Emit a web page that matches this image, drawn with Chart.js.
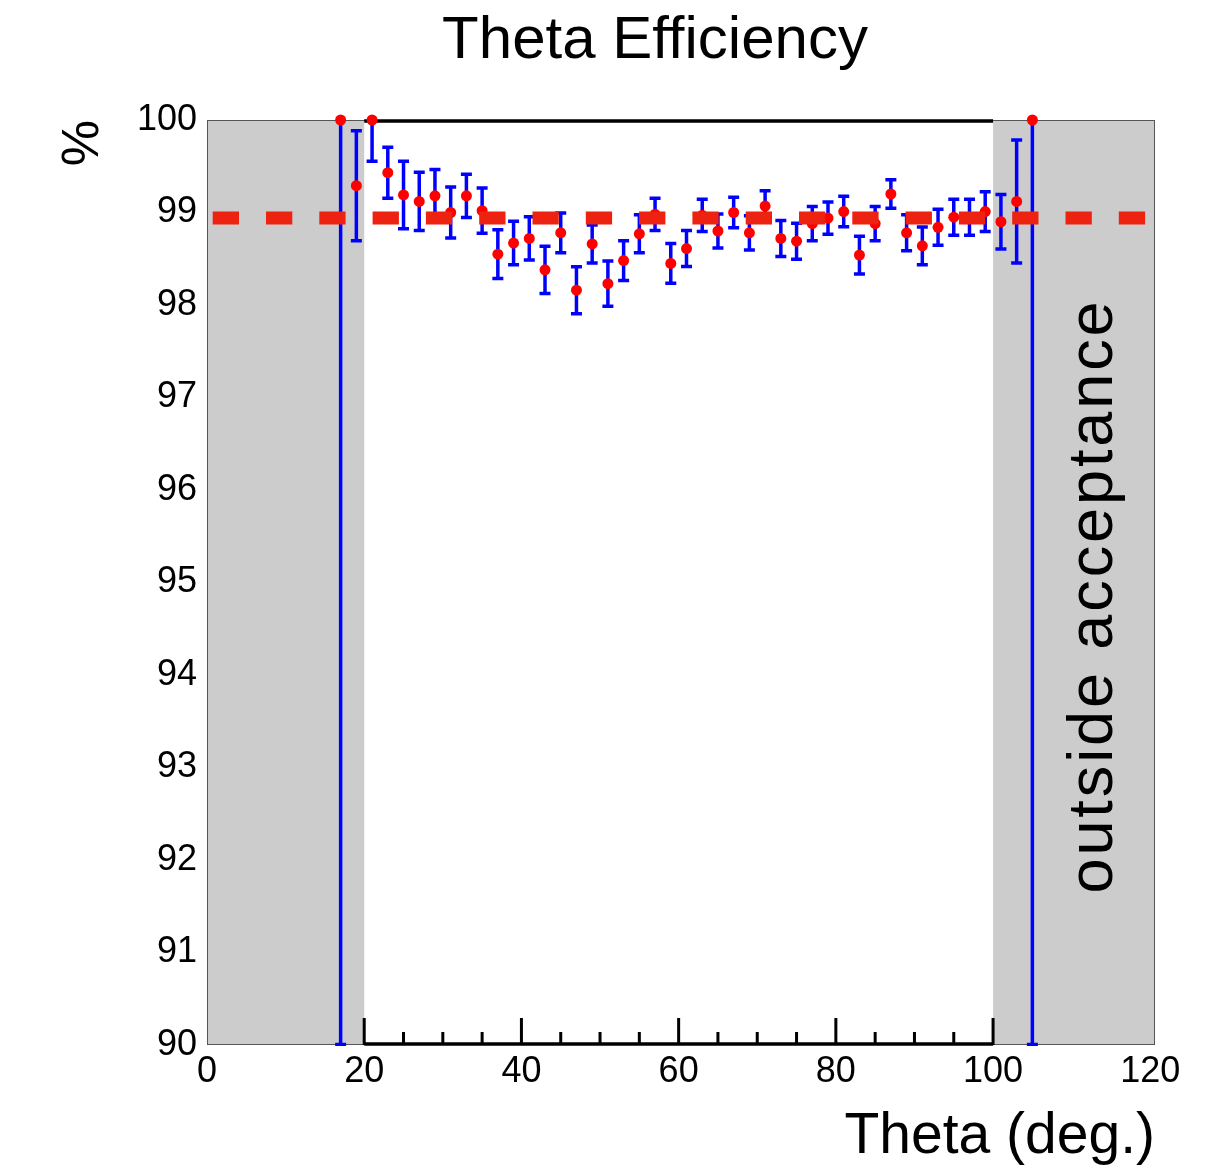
<!DOCTYPE html>
<html>
<head>
<meta charset="utf-8">
<script src="https://cdn.jsdelivr.net/npm/chart.js@4/dist/chart.umd.min.js"></script>
<style>
  html, body { margin: 0; padding: 0; background: #fff; }
  canvas { display: block; }
</style>
</head>
<body>
<canvas id="theta-chart" width="1226" height="1175"></canvas>
<script>
// theta bin centres (deg.)
const theta = [17, 19, 21, 23, 25, 27, 29, 31, 33, 35, 37, 39, 41, 43, 45, 47, 49, 51, 53, 55,
    57, 59, 61, 63, 65, 67, 69, 71, 73, 75, 77, 79, 81, 83, 85, 87, 89, 91, 93, 95,
    97, 99, 101, 103, 105];

// efficiency in %
const efficiency = [100.0, 99.29, 100.0, 99.43, 99.19, 99.12, 99.18, 99.00, 99.18, 99.02,
    98.55, 98.67, 98.72, 98.38, 98.78, 98.16, 98.66, 98.23, 98.48, 98.77,
    98.98, 98.45, 98.61, 98.97, 98.80, 99.00, 98.78, 99.07, 98.72, 98.69,
    98.88, 98.94, 99.01, 98.54, 98.88, 99.20, 98.78, 98.64, 98.84, 98.95,
    98.95, 99.01, 98.90, 99.12, 100.0];

const efficiencyErr = [10.0, 0.60, 0.45, 0.28, 0.37, 0.32, 0.29, 0.28, 0.24, 0.25,
    0.27, 0.24, 0.24, 0.26, 0.22, 0.26, 0.21, 0.25, 0.22, 0.21,
    0.18, 0.22, 0.20, 0.18, 0.19, 0.17, 0.19, 0.17, 0.20, 0.20,
    0.19, 0.18, 0.17, 0.21, 0.19, 0.16, 0.20, 0.21, 0.20, 0.20,
    0.20, 0.22, 0.30, 0.67, 10.0];

const meanEff = 98.94;
const acceptance = [20, 100];
const xRange = [0, 120.6];
const xTickValues = [0, 20, 40, 60, 80, 100, 120];
const xMinorTicks = [20, 25, 30, 35, 40, 45, 50, 55, 60, 65, 70, 75, 80, 85, 90, 95, 100];
const yRange = [90, 100];

const FONT = "'Liberation Sans', Arial, Helvetica, sans-serif";

const framePlugin = {
    id: 'frame',
    beforeDatasetsDraw(chart) {
        const { ctx, chartArea: a, scales: { x, y } } = chart;
        const xa = x.getPixelForValue(acceptance[0]);
        const xb = x.getPixelForValue(acceptance[1]);
        ctx.save();

        // grey regions outside acceptance
        ctx.fillStyle = '#cccccc';
        ctx.fillRect(a.left, a.top, xa - a.left, a.bottom - a.top);
        ctx.fillRect(xb, a.top, a.right - xb, a.bottom - a.top);
        ctx.strokeStyle = '#555';
        ctx.lineWidth = 1;
        ctx.strokeRect(a.left + 0.5, a.top + 0.5, a.right - a.left - 1, a.bottom - a.top - 1);

        // axis lines inside acceptance
        ctx.strokeStyle = '#000';
        ctx.lineWidth = 3.5;
        ctx.beginPath();
        ctx.moveTo(xa, a.top + 1);
        ctx.lineTo(xb, a.top + 1);
        ctx.moveTo(xa, a.bottom - 1);
        ctx.lineTo(xb, a.bottom - 1);
        ctx.stroke();
        ctx.lineWidth = 3;
        ctx.beginPath();
        xMinorTicks.forEach(v => {
            const px = x.getPixelForValue(v);
            const len = v % 20 === 0 ? 27 : 13;
            ctx.moveTo(px, a.bottom);
            ctx.lineTo(px, a.bottom - len);
        });
        ctx.stroke();

        // label in the right grey band
        ctx.fillStyle = '#000';
        ctx.font = '63px ' + FONT;
        ctx.letterSpacing = '2.9px';
        ctx.textAlign = 'center';
        ctx.textBaseline = 'alphabetic';
        ctx.translate(1112, 596);
        ctx.rotate(-Math.PI / 2);
        ctx.fillText('outside acceptance', 0, 0);
        ctx.restore();

        // error bars
        ctx.save();
        ctx.beginPath();
        ctx.rect(a.left, a.top - 1, a.right - a.left, a.bottom - a.top + 2);
        ctx.clip();
        ctx.strokeStyle = '#0000ff';
        ctx.lineWidth = 3.5;
        ctx.beginPath();
        theta.forEach((t, i) => {
            const px = x.getPixelForValue(t);
            const lo = y.getPixelForValue(efficiency[i] - efficiencyErr[i]);
            const hi = y.getPixelForValue(efficiency[i] + efficiencyErr[i]);
            ctx.moveTo(px, lo);
            ctx.lineTo(px, hi);
            ctx.moveTo(px - 5.5, lo - 0.5);
            ctx.lineTo(px + 5.5, lo - 0.5);
            ctx.moveTo(px - 5.5, hi + 0.5);
            ctx.lineTo(px + 5.5, hi + 0.5);
        });
        ctx.stroke();
        ctx.restore();
    },
    afterDraw(chart) {
        const { ctx } = chart;
        ctx.save();
        ctx.fillStyle = '#000';
        ctx.font = '60px ' + FONT;
        ctx.textAlign = 'center';
        ctx.textBaseline = 'alphabetic';
        ctx.fillText('Theta Efficiency', 655, 58);
        ctx.restore();
    }
};

const config = {
    type: 'scatter',
    data: {
        datasets: [{
            label: 'mean',
            data: [{ x: 0, y: meanEff }, { x: xRange[1], y: meanEff }],
            showLine: true,
            borderColor: '#ee2211',
            borderWidth: 13,
            borderDash: [26.3, 27],
            borderDashOffset: 47.6,
            pointRadius: 0,
            order: 0,
        }, {
            label: 'efficiency',
            data: theta.map((t, i) => ({ x: t, y: efficiency[i] })),
            backgroundColor: '#ff0000',
            borderColor: '#ff0000',
            pointRadius: 5.5,
            borderWidth: 0,
            order: 1,
            clip: 8,
        }],
    },
    options: {
        responsive: false,
        animation: false,
        layout: { padding: { left: 0, right: 71, top: 120, bottom: 0 } },
        plugins: {
            legend: { display: false },
            tooltip: { enabled: false },
            title: { display: false },
        },
        scales: {
            x: {
                type: 'linear',
                min: xRange[0],
                max: xRange[1],
                grid: { display: false, drawTicks: false },
                border: { display: false },
                afterBuildTicks(scale) {
                    scale.ticks = xTickValues.map(v => ({ value: v }));
                },
                ticks: {
                    color: '#000',
                    padding: 5,
                    maxRotation: 0,
                    autoSkip: false,
                    font: { family: FONT, size: 36 },
                },
                title: {
                    display: true,
                    text: 'Theta (deg.)',
                    align: 'end',
                    color: '#000',
                    font: { family: FONT, size: 57 },
                    padding: { top: 0, bottom: 4 },
                },
                afterFit(scale) { scale.height = 130; },
            },
            y: {
                type: 'linear',
                min: yRange[0],
                max: yRange[1],
                grid: { display: false, drawTicks: false },
                border: { display: false },
                ticks: {
                    stepSize: 1,
                    color: '#000',
                    padding: 10,
                    font: { family: FONT, size: 36 },
                },
                title: {
                    display: true,
                    text: '%',
                    align: 'end',
                    color: '#000',
                    font: { family: FONT, size: 52 },
                    padding: { top: 52.5, bottom: 0 },
                },
                afterFit(scale) { scale.width = 207; },
            },
        },
    },
    plugins: [framePlugin],
};

new Chart(document.getElementById('theta-chart'), config);
</script>
</body>
</html>
